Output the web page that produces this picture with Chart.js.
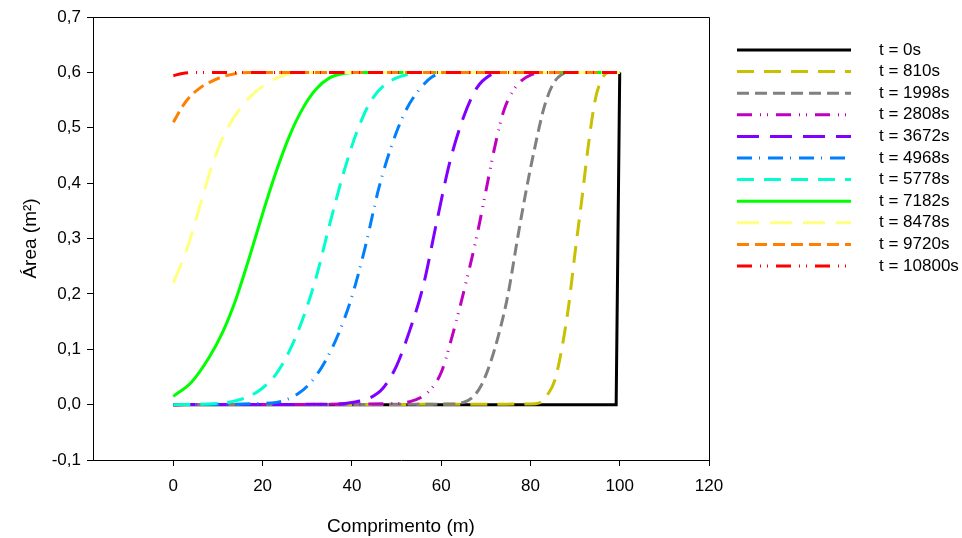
<!DOCTYPE html>
<html>
<head>
<meta charset="utf-8">
<script src="https://cdn.jsdelivr.net/npm/chart.js@4.4.1/dist/chart.umd.min.js"></script>
<style>
  html, body { margin: 0; padding: 0; background: #ffffff; }
  #wrap { width: 962px; height: 538px; }
</style>
</head>
<body>
<div id="wrap"><canvas id="c" width="962" height="538"></canvas></div>
<script>
// ---- Data ----
const seriesLabels = ['t = 0s', 't = 810s', 't = 1998s', 't = 2808s', 't = 3672s', 't = 4968s',
                      't = 5778s', 't = 7182s', 't = 8478s', 't = 9720s', 't = 10800s'];

const x_t0     = [0, 99.2, 100];
const y_t0     = [0, 0, 0.6];

const x_t810   = [0, 80, 82, 84, 85.5, 87, 88.5, 90, 91.5, 93, 94.5, 96, 97.5, 100];
const y_t810   = [0, 0.001, 0.003, 0.02, 0.045, 0.1, 0.175, 0.275, 0.37, 0.47, 0.55, 0.588, 0.6, 0.6];

const x_t1998  = [0, 62, 65, 67, 69, 71, 73, 75, 77, 79, 81, 83, 85, 87, 89, 100];
const y_t1998  = [0, 0.001, 0.004, 0.013, 0.035, 0.075, 0.13, 0.2, 0.295, 0.385, 0.465, 0.535, 0.578, 0.596, 0.6, 0.6];

const x_t2808  = [0, 50, 54, 57, 60, 62, 64, 66, 68, 70, 72, 74, 76, 78, 80, 83, 100];
const y_t2808  = [0, 0.002, 0.008, 0.022, 0.058, 0.11, 0.17, 0.235, 0.305, 0.385, 0.465, 0.53, 0.565, 0.585, 0.595, 0.6, 0.6];

const x_t3672  = [0, 36, 40, 44, 47, 50, 53, 56, 59, 62, 65, 68, 71, 74, 100];
const y_t3672  = [0, 0.001, 0.004, 0.012, 0.03, 0.07, 0.135, 0.215, 0.33, 0.44, 0.519, 0.572, 0.595, 0.6, 0.6];

const x_t4968  = [0, 22, 25, 28, 31, 34, 37, 40, 43, 46, 49, 52, 55, 58, 61, 100];
const y_t4968  = [0, 0.003, 0.008, 0.02, 0.042, 0.078, 0.128, 0.195, 0.285, 0.39, 0.47, 0.53, 0.568, 0.592, 0.6, 0.6];

const x_t5778  = [0, 10, 14, 17, 20, 23, 26, 29, 32, 35, 38, 41, 44, 47, 50, 53, 56, 100];
const y_t5778  = [0, 0.002, 0.007, 0.015, 0.03, 0.055, 0.097, 0.155, 0.23, 0.325, 0.415, 0.49, 0.545, 0.575, 0.59, 0.597, 0.6, 0.6];

const x_t7182  = [0, 4, 8, 11, 14, 17, 20, 23, 26, 29, 32, 35, 38, 41, 100];
const y_t7182  = [0.015, 0.04, 0.085, 0.13, 0.19, 0.265, 0.345, 0.42, 0.485, 0.535, 0.57, 0.59, 0.598, 0.6, 0.6];

const x_t8478  = [0, 3, 6, 9, 12, 15, 18, 21, 24, 27, 30, 100];
const y_t8478  = [0.22, 0.28, 0.36, 0.44, 0.497, 0.535, 0.562, 0.58, 0.593, 0.599, 0.6, 0.6];

const x_t9720  = [0, 2, 3.6, 6, 8.1, 11, 14.2, 17, 100];
const y_t9720  = [0.51, 0.538, 0.555, 0.572, 0.582, 0.592, 0.598, 0.6, 0.6];

const x_t10800 = [0, 2, 5, 100];
const y_t10800 = [0.594, 0.598, 0.6, 0.6];

const xTickValues = [0, 20, 40, 60, 80, 100, 120];
const yTickMin = -0.1, yTickMax = 0.7, yTickStep = 0.1;
const xAxisMin = -18, xAxisMax = 120;
const xTitle = 'Comprimento (m)';
const yTitle = 'Área (m²)';

// ---- Styles ----
const xsList = [x_t0, x_t810, x_t1998, x_t2808, x_t3672, x_t4968, x_t5778, x_t7182, x_t8478, x_t9720, x_t10800];
const ysList = [y_t0, y_t810, y_t1998, y_t2808, y_t3672, y_t4968, y_t5778, y_t7182, y_t8478, y_t9720, y_t10800];
const colors = ['#000000', '#c8c000', '#808080', '#c000c0', '#8000ff', '#0080ff',
                '#00ffcc', '#00ff00', '#ffff80', '#ff8000', '#ff0000'];
const dashes = [[], [17, 10], [12, 6], [15, 8, 1, 6, 1, 8], [22, 11], [15, 7, 1, 8],
                [17, 10], [], [22, 11], [12, 6], [15, 8, 1, 6, 1, 8]];

const FONT = 'Arial, "Liberation Sans", sans-serif';

const datasets = seriesLabels.map((lab, i) => ({
  label: lab,
  data: xsList[i].map((x, k) => ({ x: x, y: ysList[i][k] })),
  borderColor: colors[i],
  backgroundColor: colors[i],
  borderWidth: 3,
  borderDash: dashes[i],
  pointRadius: 0,
  fill: false,
  cubicInterpolationMode: i === 0 ? 'default' : 'monotone',
  tension: 0,
  order: -i
}));

const framePlugin = {
  id: 'frameAndLegend',
  afterDatasetsDraw(chart) {
    const ctx = chart.ctx;
    const a = chart.chartArea;
    ctx.save();
    ctx.strokeStyle = '#000';
    ctx.lineWidth = 1;
    ctx.setLineDash([]);
    ctx.beginPath();
    ctx.moveTo(a.left, a.top + 0.5);
    ctx.lineTo(a.right + 0.5, a.top + 0.5);
    ctx.lineTo(a.right + 0.5, a.bottom);
    ctx.stroke();
    ctx.restore();
  },
  afterDraw(chart) {
    const ctx = chart.ctx;
    const a = chart.chartArea;
    const lx0 = a.right + 28, lx1 = a.right + 142, tx = a.right + 170;
    const y0 = 50, dy = 21.6;
    chart.data.datasets.forEach((ds, i) => {
      const y = y0 + i * dy;
      ctx.save();
      ctx.strokeStyle = ds.borderColor;
      ctx.lineWidth = ds.borderWidth;
      ctx.setLineDash(ds.borderDash || []);
      ctx.beginPath();
      ctx.moveTo(lx0, y);
      ctx.lineTo(lx1, y);
      ctx.stroke();
      ctx.setLineDash([]);
      ctx.fillStyle = '#000';
      ctx.font = '17px ' + FONT;
      ctx.textBaseline = 'middle';
      ctx.textAlign = 'left';
      ctx.fillText(ds.label, tx, y);
      ctx.restore();
    });
  }
};

new Chart(document.getElementById('c'), {
  type: 'line',
  data: { datasets: datasets },
  options: {
    responsive: false,
    animation: false,
    layout: { padding: { left: 0, top: 17, right: 253, bottom: 0 } },
    plugins: { legend: { display: false }, tooltip: { enabled: false } },
    scales: {
      x: {
        type: 'linear',
        min: xAxisMin,
        max: xAxisMax,
        afterBuildTicks: (scale) => { scale.ticks = xTickValues.map(v => ({ value: v })); },
        afterFit: (scale) => { scale.height = 78; },
        grid: { drawOnChartArea: false, drawTicks: true, tickLength: 6, color: '#000', lineWidth: 1 },
        border: { display: true, color: '#000', width: 1 },
        ticks: { color: '#000', font: { family: FONT, size: 17 }, padding: 10, maxRotation: 0, autoSkip: false },
        title: { display: true, text: xTitle, color: '#000', font: { family: FONT, size: 19 }, padding: { top: 2, bottom: 0 } }
      },
      y: {
        type: 'linear',
        min: yTickMin,
        max: yTickMax,
        afterFit: (scale) => { scale.width = 93; },
        grid: { drawOnChartArea: false, drawTicks: true, tickLength: 6, color: '#000', lineWidth: 1 },
        border: { display: true, color: '#000', width: 1 },
        ticks: {
          stepSize: yTickStep,
          color: '#000',
          font: { family: FONT, size: 17 },
          padding: 6,
          callback: (v) => {
            const n = Math.abs(v) < 1e-9 ? 0 : Number(v);
            return n.toFixed(1).replace('.', ',');
          }
        },
        title: { display: true, text: yTitle, color: '#000', font: { family: FONT, size: 19 }, padding: { top: 19, bottom: 0 } }
      }
    }
  },
  plugins: [framePlugin]
});
</script>
</body>
</html>
